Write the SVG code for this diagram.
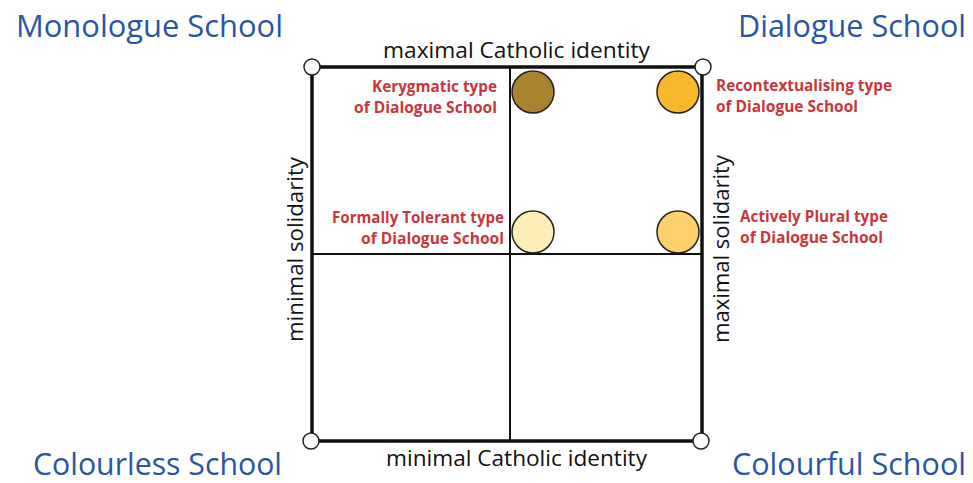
<svg xmlns="http://www.w3.org/2000/svg" width="973" height="483" viewBox="0 0 973 483">
<style>
.school{font-family:"Open Sans","Liberation Sans",sans-serif;font-size:31px;fill:#2A55A5}
.axis{font-family:"Open Sans","Liberation Sans",sans-serif;font-size:21px;fill:#111}
.type{font-family:"Open Sans","Liberation Sans",sans-serif;font-size:15.5px;font-weight:bold;fill:#C8363C}
.frame{fill:none;stroke:#111;stroke-width:3.5}
.inner{stroke:#111;stroke-width:2}
.corner{fill:#fff;stroke:#222;stroke-width:1.5}
.dot{stroke:#222;stroke-width:1.5}
</style>
<rect width="973" height="483" fill="#fff"/>
<g id="connectors">
<line class="inner" x1="510" y1="67" x2="510" y2="441"/>
<line class="inner" x1="312" y1="254" x2="702" y2="254"/>
<rect class="frame" x="312" y="67" width="390" height="374"/>
</g>
<g id="corner-tl"><circle class="corner" cx="312" cy="67" r="8"/></g>
<g id="corner-tr"><circle class="corner" cx="703" cy="67" r="8"/></g>
<g id="corner-bl"><circle class="corner" cx="311" cy="441" r="8"/></g>
<g id="corner-br"><circle class="corner" cx="701" cy="441" r="8"/></g>
<g id="monologue"><text class="school" x="16" y="37" textLength="267" lengthAdjust="spacingAndGlyphs">Monologue School</text></g>
<g id="dialogue"><text class="school" x="738" y="37" textLength="228" lengthAdjust="spacingAndGlyphs">Dialogue School</text></g>
<g id="colourless"><text class="school" x="33" y="475" textLength="249" lengthAdjust="spacingAndGlyphs">Colourless School</text></g>
<g id="colourful"><text class="school" x="732" y="475" textLength="234" lengthAdjust="spacingAndGlyphs">Colourful School</text></g>
<g id="axis-top"><text class="axis" x="383" y="58" textLength="267" lengthAdjust="spacingAndGlyphs">maximal Catholic identity</text></g>
<g id="axis-bottom"><text class="axis" x="386" y="466" textLength="261" lengthAdjust="spacingAndGlyphs">minimal Catholic identity</text></g>
<g id="axis-left"><text class="axis" transform="translate(303,342) rotate(-90)" x="0" y="0" textLength="185" lengthAdjust="spacingAndGlyphs">minimal solidarity</text></g>
<g id="axis-right"><text class="axis" transform="translate(729,343) rotate(-90)" x="0" y="0" textLength="188" lengthAdjust="spacingAndGlyphs">maximal solidarity</text></g>
<g id="kerygmatic">
<circle class="dot" cx="533" cy="92" r="21" fill="#A8822C"/>
<text class="type" x="372" y="92" textLength="125" lengthAdjust="spacingAndGlyphs">Kerygmatic type</text>
<text class="type" x="354" y="113" textLength="143" lengthAdjust="spacingAndGlyphs">of Dialogue School</text>
</g>
<g id="recontextualising">
<circle class="dot" cx="678" cy="92" r="21" fill="#F7B82C"/>
<text class="type" x="716" y="91" textLength="176" lengthAdjust="spacingAndGlyphs">Recontextualising type</text>
<text class="type" x="716" y="112" textLength="142" lengthAdjust="spacingAndGlyphs">of Dialogue School</text>
</g>
<g id="formally-tolerant">
<circle class="dot" cx="533" cy="232" r="21" fill="#FDEDB6"/>
<text class="type" x="332" y="223" textLength="172" lengthAdjust="spacingAndGlyphs">Formally Tolerant type</text>
<text class="type" x="361" y="244" textLength="143" lengthAdjust="spacingAndGlyphs">of Dialogue School</text>
</g>
<g id="actively-plural">
<circle class="dot" cx="678" cy="232" r="21" fill="#FDD06B"/>
<text class="type" x="740" y="222" textLength="148" lengthAdjust="spacingAndGlyphs">Actively Plural type</text>
<text class="type" x="740" y="243" textLength="143" lengthAdjust="spacingAndGlyphs">of Dialogue School</text>
</g>
</svg>
